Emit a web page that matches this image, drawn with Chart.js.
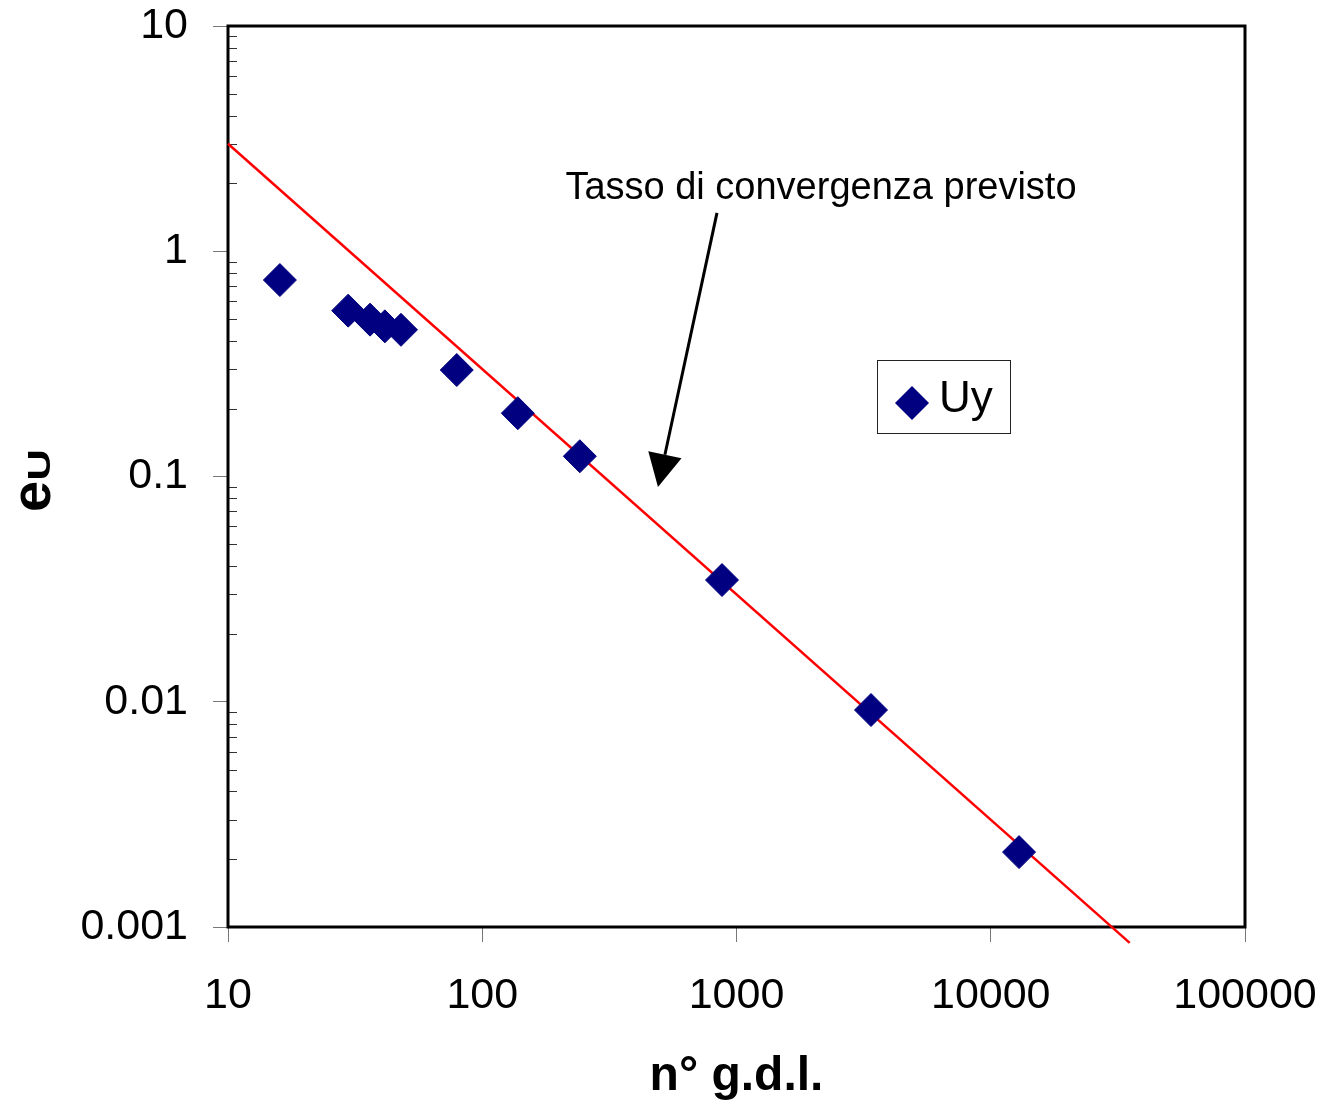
<!DOCTYPE html>
<html>
<head>
<meta charset="utf-8">
<script src="https://cdn.jsdelivr.net/npm/chart.js@4.4.0/dist/chart.umd.min.js"></script>
<style>
  html, body { margin: 0; padding: 0; background: #fff; }
</style>
</head>
<body>
<canvas id="grafico" width="1334" height="1106"></canvas>
<script>
// dati
const gdl = [16, 29.7, 36.2, 41.4, 47.9, 79.4, 138, 242, 877, 3381, 12920];
const errU = [0.745, 0.545, 0.497, 0.464, 0.448, 0.297, 0.191, 0.123, 0.0347, 0.00919, 0.00215];
const rettaX = [10, 35200];
const rettaY = [3.0, 0.00085];
const xTicks = [10, 100, 1000, 10000, 100000];
const xTickLabels = ['10', '100', '1000', '10000', '100000'];
const yTicks = [0.001, 0.01, 0.1, 1, 10];
const yTickLabels = ['0.001', '0.01', '0.1', '1', '10'];
const nomeSerie = 'Uy';
const testoFreccia = 'Tasso di convergenza previsto';
// posizione della freccia e del testo (coordinate dati)
const frecciaDa = [838, 1.48];
const frecciaA = [491, 0.0898];
const testoPos = [2149, 1.706];

const FONT = '"Liberation Sans", Arial, sans-serif';
const BLU = '#000080';

// niente padding automatico per le etichette: l'area del grafico la decide layout.padding
function azzeraPadding(s) {
  s.paddingTop = 0;
  s.paddingBottom = 0;
  s.paddingLeft = 0;
  s.paddingRight = 0;
}

const decorazioni = {
  id: 'decorazioni',
  beforeDatasetsDraw(chart) {
    const { ctx, chartArea: a, scales } = chart;
    ctx.save();
    // tacche minori interne sull'asse y
    ctx.strokeStyle = '#333';
    ctx.lineWidth = 1;
    for (let e = -3; e < 1; e++) {
      for (let m = 2; m <= 9; m++) {
        const py = Math.round(scales.y.getPixelForValue(m * Math.pow(10, e))) + 0.5;
        ctx.beginPath();
        ctx.moveTo(a.left, py);
        ctx.lineTo(a.left + 9, py);
        ctx.stroke();
      }
    }
    // cornice
    ctx.strokeStyle = '#000';
    ctx.lineWidth = 3;
    ctx.strokeRect(a.left, a.top, a.right - a.left, a.bottom - a.top);
    ctx.restore();
  },
  afterDraw(chart) {
    const { ctx, scales } = chart;
    const sx = scales.x, sy = scales.y;
    ctx.save();

    // testo annotazione
    ctx.fillStyle = '#000';
    ctx.font = '38px ' + FONT;
    ctx.textAlign = 'center';
    ctx.textBaseline = 'alphabetic';
    ctx.fillText(testoFreccia, sx.getPixelForValue(testoPos[0]), sy.getPixelForValue(testoPos[1]));

    // freccia
    const x1 = sx.getPixelForValue(frecciaDa[0]), y1 = sy.getPixelForValue(frecciaDa[1]);
    const x2 = sx.getPixelForValue(frecciaA[0]), y2 = sy.getPixelForValue(frecciaA[1]);
    const ang = Math.atan2(y2 - y1, x2 - x1);
    const lung = 33, mezza = 17;
    const bx = x2 - lung * Math.cos(ang), by = y2 - lung * Math.sin(ang);
    ctx.strokeStyle = '#000';
    ctx.lineWidth = 3;
    ctx.beginPath();
    ctx.moveTo(x1, y1);
    ctx.lineTo(bx, by);
    ctx.stroke();
    ctx.beginPath();
    ctx.moveTo(x2, y2);
    ctx.lineTo(bx + mezza * Math.sin(ang), by - mezza * Math.cos(ang));
    ctx.lineTo(bx - mezza * Math.sin(ang), by + mezza * Math.cos(ang));
    ctx.closePath();
    ctx.fillStyle = '#000';
    ctx.fill();

    // legenda
    const ds = chart.data.datasets[0];
    ctx.lineWidth = 1;
    ctx.strokeStyle = '#222';
    ctx.strokeRect(877.5, 360.5, 133, 73);
    ctx.fillStyle = BLU;
    ctx.beginPath();
    ctx.moveTo(895, 403); ctx.lineTo(912, 386); ctx.lineTo(929, 403); ctx.lineTo(912, 420);
    ctx.closePath();
    ctx.fill();
    ctx.fillStyle = '#000';
    ctx.font = '44px ' + FONT;
    ctx.textAlign = 'left';
    ctx.fillText(ds.label, 939, 412);

    // titolo asse y: e con pedice U
    ctx.translate(50, 512);
    ctx.rotate(-Math.PI / 2);
    ctx.textAlign = 'left';
    ctx.font = 'bold 56px ' + FONT;
    ctx.fillText('e', 0, 0);
    const w = ctx.measureText('e').width;
    ctx.translate(w, 0);
    ctx.scale(1, 0.73);
    ctx.font = 'bold 44px ' + FONT;
    ctx.fillText('U', 0, 0);
    ctx.restore();
  }
};

const grafico = new Chart(document.getElementById('grafico').getContext('2d'), {
  type: 'scatter',
  data: {
    datasets: [
      {
        label: nomeSerie,
        data: gdl.map((x, i) => ({ x: x, y: errU[i] })),
        pointStyle: 'rectRot',
        pointRadius: 16.5,
        pointBorderWidth: 1,
        backgroundColor: BLU,
        borderColor: BLU,
        order: 0
      },
      {
        label: 'previsto',
        data: rettaX.map((x, i) => ({ x: x, y: rettaY[i] })),
        showLine: true,
        pointRadius: 0,
        borderColor: '#ff0000',
        borderWidth: 2.5,
        clip: false,
        order: 1
      }
    ]
  },
  options: {
    responsive: false,
    animation: false,
    events: [],
    layout: { padding: { top: 26, right: 89, bottom: 0, left: 0 } },
    plugins: {
      legend: { display: false },
      tooltip: { enabled: false }
    },
    scales: {
      x: {
        type: 'logarithmic',
        position: 'bottom',
        min: 10,
        max: 100000,
        afterFit(s) { s.height = 179; azzeraPadding(s); },
        afterBuildTicks(s) { s.ticks = xTicks.map(v => ({ value: v })); },
        ticks: {
          callback: (v, i) => xTickLabels[i],
          font: { family: FONT, size: 43 },
          color: '#000',
          padding: 28,
          maxRotation: 0,
          autoSkip: false
        },
        grid: { drawOnChartArea: false, tickLength: 15, color: '#777', lineWidth: 1 },
        border: { display: false },
        title: {
          display: true,
          text: 'n° g.d.l.',
          font: { family: FONT, size: 48, weight: 'bold' },
          color: '#000',
          padding: { top: 0, bottom: 0 }
        }
      },
      y: {
        type: 'logarithmic',
        position: 'left',
        min: 0.001,
        max: 10,
        afterFit(s) { s.width = 228; azzeraPadding(s); },
        afterBuildTicks(s) { s.ticks = yTicks.map(v => ({ value: v })); },
        ticks: {
          callback: (v, i) => yTickLabels[i],
          font: { family: FONT, size: 43 },
          color: '#000',
          padding: 25,
          autoSkip: false
        },
        grid: { drawOnChartArea: false, tickLength: 15, color: '#777', lineWidth: 1 },
        border: { display: false }
      }
    }
  },
  plugins: [decorazioni]
});
</script>
</body>
</html>
